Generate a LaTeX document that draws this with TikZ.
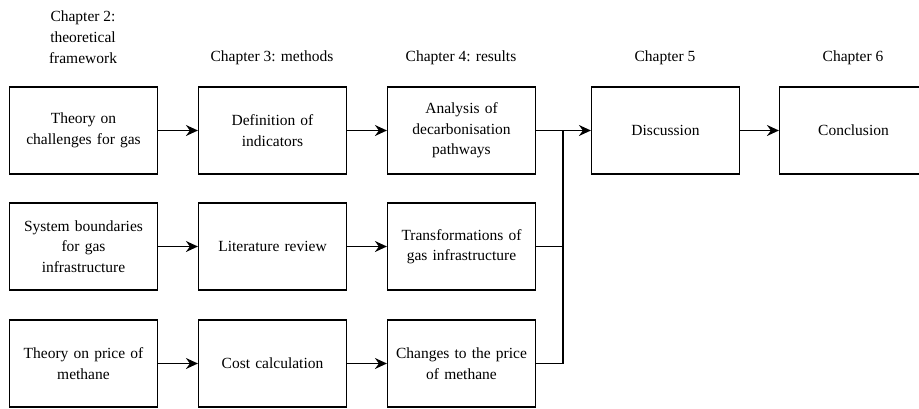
\documentclass[tikz,border=0pt]{standalone}
\usepackage{fontspec}
\setmainfont{Liberation Serif}
\usetikzlibrary{arrows.meta}
\begin{document}
\begin{tikzpicture}[x=1pt,y=-1pt,
  box/.style={draw, line width=1.2pt, minimum width=146pt, minimum height=87pt, align=center, inner sep=2pt, font=\fontsize{15.5}{20.5}\selectfont, text width=144pt},
  hdr/.style={align=center, font=\fontsize{15.5}{21}\selectfont},
  arr/.style={line width=1.2pt, -{Stealth[length=12pt,width=11pt,inset=4pt]}},
  ln/.style={line width=1.2pt}]
\useasboundingbox (0,0) rectangle (919,408);
\begin{scope}
\clip (0,0) rectangle (919,408);
% headers
\node[hdr] (h2) at (83,37) {Chapter 2:\\theoretical\\framework};
\node[hdr] (h3) at (272,58) {Chapter 3: methods};
\node[hdr] (h4) at (461,58) {Chapter 4: results};
\node[hdr] (h5) at (665,58) {Chapter 5};
\node[hdr] (h6) at (853,58) {Chapter 6};
% row 1
\node[box] (a1) at (83.5,130.5) {Theory on\\challenges for gas};
\node[box] (a2) at (272.5,130.5) {Definition of\\indicators};
\node[box] (a3) at (461.5,130.5) {Analysis of\\decarbonisation\\pathways};
\node[box] (a4) at (665.5,130.5) {Discussion};
\node[box] (a5) at (853.5,130.5) {Conclusion};
% row 2
\node[box] (b1) at (83.5,246.5) {System boundaries\\for gas\\infrastructure};
\node[box] (b2) at (272.5,246.5) {Literature review};
\node[box] (b3) at (461.5,246.5) {Transformations of\\gas infrastructure};
% row 3
\node[box] (c1) at (83.5,363.5) {Theory on price of\\methane};
\node[box] (c2) at (272.5,363.5) {Cost calculation};
\node[box] (c3) at (461.5,363.5) {Changes to the price\\of methane};
% arrows
\draw[arr] (a1) -- (a2);
\draw[arr] (a2) -- (a3);
\draw[arr] (a3) -- (a4);
\draw[arr] (a4) -- (a5);
\draw[arr] (b1) -- (b2);
\draw[arr] (b2) -- (b3);
\draw[arr] (c1) -- (c2);
\draw[arr] (c2) -- (c3);
\coordinate (j) at (563,130.5);
\draw[ln] (b3.east) -| (j);
\draw[ln] (c3.east) -| (j);
\end{scope}
\end{tikzpicture}
\end{document}
